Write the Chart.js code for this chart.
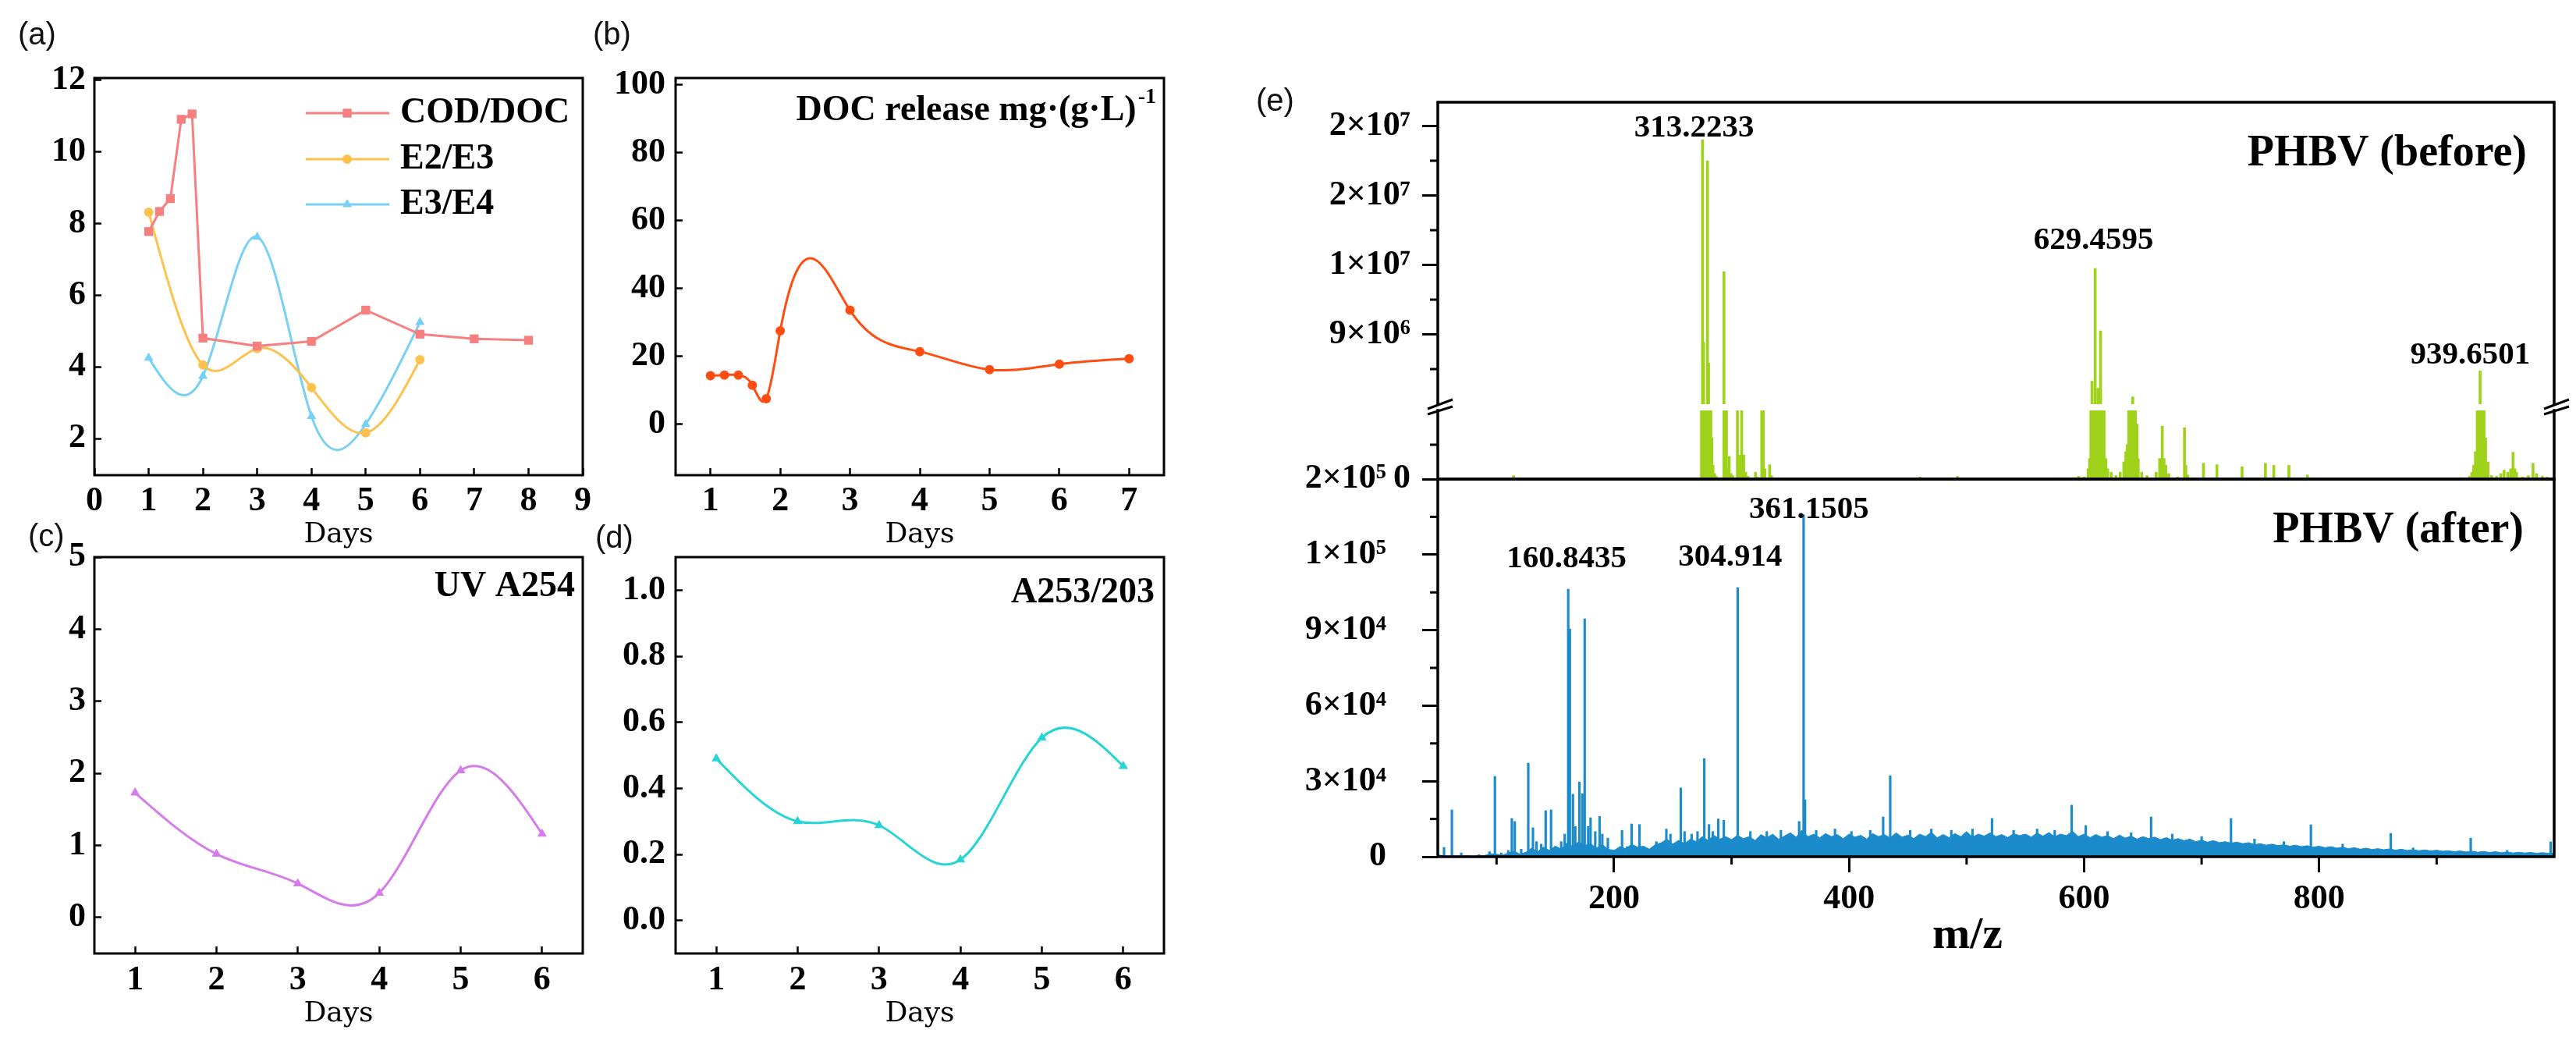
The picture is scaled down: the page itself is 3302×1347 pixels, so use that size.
<!DOCTYPE html>
<html>
<head>
<meta charset="utf-8">
<title>PHBV release / spectra</title>
<script src="https://cdn.jsdelivr.net/npm/chart.js@4.4.1/dist/chart.umd.min.js"></script>
<style>
  body { margin: 0; background: #fff; }
  #fig { position: relative; width: 3302px; height: 1347px; background: #fff; overflow: hidden; }
  #fig canvas { position: absolute; }
  .plab { position: absolute; font-family: "Liberation Sans", Arial, sans-serif; font-size: 40px; line-height: 40px; color: #111; }
</style>
</head>
<body>
<div id="fig">
  <canvas id="cA"></canvas>
  <canvas id="cB"></canvas>
  <canvas id="cC"></canvas>
  <canvas id="cD"></canvas>
  <canvas id="cE1"></canvas>
  <canvas id="cE2"></canvas>
  <canvas id="cE3"></canvas>
  <div class="plab" style="left:23px;top:23px">(a)</div>
  <div class="plab" style="left:760px;top:23px">(b)</div>
  <div class="plab" style="left:36px;top:666px">(c)</div>
  <div class="plab" style="left:763px;top:668px">(d)</div>
  <div class="plab" style="left:1610px;top:108px">(e)</div>
</div>
<script>
// (a) ratios
const daysCod = [1, 1.2, 1.4, 1.6, 1.8, 2, 3, 4, 5, 6, 7, 8];
const codDoc = [7.77, 8.33, 8.69, 10.9, 11.05, 4.8, 4.58, 4.71, 5.58, 4.91, 4.78, 4.74];
const daysE = [1, 2, 3, 4, 5, 6];
const e2e3 = [8.31, 4.05, 4.51, 3.42, 2.16, 4.2];
const e3e4 = [4.25, 3.74, 7.62, 2.62, 2.4, 5.24];
const ticksAx = [0, 1, 2, 3, 4, 5, 6, 7, 8, 9];
const ticksAy = [2, 4, 6, 8, 10, 12];

// (b) DOC release
const daysDoc = [1, 1.2, 1.4, 1.6, 1.8, 2, 3, 4, 5, 6, 7];
const docRelease = [14.3, 14.5, 14.5, 11.5, 7.5, 27.5, 33.6, 21.4, 16.1, 17.7, 19.3];
const ticksBx = [1, 2, 3, 4, 5, 6, 7];
const ticksBy = [0, 20, 40, 60, 80, 100];

// (c) UV A254 and (d) A253/203
const days6 = [1, 2, 3, 4, 5, 6];
const uvA254 = [1.73, 0.88, 0.47, 0.34, 2.04, 1.16];
const a253203 = [0.49, 0.30, 0.288, 0.184, 0.553, 0.467];
const ticksCDx = [1, 2, 3, 4, 5, 6];
const ticksCy = [0, 1, 2, 3, 4, 5];
const ticksDy = [0, 0.2, 0.4, 0.6, 0.8, 1.0];

// (e) PHBV before: [m/z, intensity]
const beforePeaks = [
  [114.5, 5e4], [116, 2e4],
  [274.4, 2.6e6], [275.3, 2.02e7], [276.2, 8.55e6], [277.2, 3.2e6], [278.2, 2.4e6], [279.5, 1.9e7],
  [280.4, 7.34e6], [281.4, 2.8e6], [282.3, 1.6e6], [283.2, 6e5], [284.2, 2e5], [285.5, 8e4], [287, 4e4],
  [293.5, 1.26e7], [294.6, 3e6], [295.6, 1.8e6], [297, 1.5e5], [298, 3.3e5], [299.5, 8e4], [301, 5e4],
  [305, 2.5e6], [306.3, 1.5e5], [307.3, 3.5e5], [308.6, 2.5e6], [310.3, 3.5e5], [312, 1e5], [314, 4e4],
  [320.4, 1e5], [322, 3e4], [325.7, 2.5e6], [327, 1.2e6], [328.3, 1.5e5], [332.4, 2.1e5], [334, 5e4],
  [460.4, 3e4], [492.3, 4e4], [578.8, 2e4], [590, 2e4], [595.4, 4e4], [600, 3e4], [603.4, 1.5e5],
  [604.7, 3e5], [605.8, 1.2e6], [606.7, 6.3e6], [607.8, 2.8e6], [609.4, 1.28e7], [610.6, 3.5e6],
  [611.8, 5.9e6], [612.9, 2.2e6], [614, 9.2e6], [615.4, 2.5e6], [617, 1.2e6], [618.5, 3e5], [620, 1.5e5],
  [623, 1e5], [627, 5e4], [630.7, 1e5], [633.8, 2.5e5], [635.5, 4e5], [636.7, 5e5], [638, 1.5e6],
  [639.3, 2.5e6], [640.4, 2e6], [641.4, 5.4e6], [642.5, 2.2e6], [643.6, 2.5e6], [645, 8e5], [646, 3e5],
  [649, 1e5], [653.6, 5e4], [661.3, 1e5], [664.3, 3e5], [666.5, 7.7e5], [668, 3e5], [669.5, 2e5],
  [672, 8e4], [679.6, 3e4], [685.4, 7.5e5], [686.5, 2e5], [688, 6e4], [701.6, 2.3e5], [713, 2.1e5],
  [734.4, 1.8e5], [754.3, 2.3e5], [761.4, 2e5], [774.3, 2e5], [790, 6e4], [919.4, 2e4], [928, 4e4],
  [930, 1e5], [931.5, 2e5], [933, 4e5], [934.6, 2.5e6], [935.8, 3.2e6], [937, 6.9e6], [938, 2.8e6],
  [939, 2.5e6], [940.3, 1.4e6], [941.6, 6e5], [943.7, 2.5e5], [946.7, 5e4], [951, 4e4], [954.6, 8e4],
  [957.4, 1.3e5], [960.6, 1e5], [963, 1.5e5], [965, 3.9e5], [966.5, 1.5e5], [968, 1e5], [973, 3e4],
  [978, 5e4], [982, 2.3e5], [985, 8e4], [990, 4e4], [994, 3e4]
];
const beforeTicks = [9e6, 1.3e7, 1.7e7, 2.1e7];
const beforeTickLabels = ['9×10⁶', '1×10⁷', '2×10⁷', '2×10⁷'];
const beforeMinor = [7e6, 1.1e7, 1.5e7, 1.9e7];
const beforeLowTicks = [0];
const beforeLowMinor = [5e5];
const beforeLabels = [['313.2233', 268.2, 2.087e7], ['629.4595', 608, 1.439e7], ['939.6501', 928.6, 7.79e6]];

// (e) PHBV after: sticks [m/z, intensity] and baseline noise envelope
const afterPeaks = [
  [55.3, 3700], [62, 18600], [70, 1500], [85, 800], [94, 2000], [98.6, 31900], [104, 1500], [110, 2500],
  [113, 15200], [115.5, 14000], [121, 3000], [127, 37200], [131, 11500], [134, 6000], [138, 5000],
  [141.8, 18300], [146.4, 18600], [150, 4000], [155, 6000], [158, 9000], [161, 106300], [162.4, 90500],
  [165, 24800], [167, 12000], [170.5, 29700], [173, 25000], [175, 94500], [178, 12000], [180, 15500],
  [184, 10000], [187.7, 16000], [190, 9000], [194.7, 7400], [206.8, 10500], [211, 4000], [214.9, 13000],
  [221.6, 12800], [236, 6000], [244.5, 11000], [248, 9000], [256.8, 27300], [260, 10000], [266, 9000],
  [271, 10000], [276.8, 39000], [280.8, 12800], [284, 10000], [288.7, 15000], [293.4, 14500],
  [305.2, 106900], [316, 10000], [330, 10000], [342, 10500], [357.5, 14000], [361.3, 135800],
  [362.5, 22600], [372, 10500], [388, 11000], [402, 10000], [418, 10500], [429, 15800], [435, 32200],
  [452, 10500], [470, 11000], [487, 10500], [505, 11000], [521.6, 15200], [540, 10500], [560, 11000],
  [575, 10500], [589.4, 20500], [601.4, 12400], [620, 10000], [640, 9500], [657, 15800], [675, 9000],
  [700, 8000], [725, 15200], [745, 7000], [770, 6000], [793, 12700], [820, 5000], [861, 9300],
  [880, 3500], [929, 7400], [960, 2500], [997, 5900]
];
const afterNoise = [
  [50, 800], [55, 300], [60, 200], [65, 300], [70, 200], [75, 400], [80, 200], [85, 300], [90, 500], [95, 1200],
  [100, 1000], [105, 600], [110, 1500], [115, 2200], [120, 1000], [125, 1800], [130, 3500], [135, 2000], [140, 3800], [145, 2500],
  [150, 4200], [155, 3000], [160, 5500], [165, 4000], [170, 6000], [175, 4500], [180, 5200], [185, 3500], [190, 4800], [195, 3000],
  [200, 2500], [205, 4000], [210, 3200], [215, 5000], [220, 3800], [225, 4200], [230, 3000], [235, 4800], [240, 5500], [245, 7000],
  [250, 5000], [255, 6500], [260, 5200], [265, 7000], [270, 6000], [275, 8000], [280, 6500], [285, 8500], [290, 7000], [295, 8000],
  [300, 6800], [305, 8500], [310, 7200], [315, 8000], [320, 6500], [325, 8800], [330, 7500], [335, 9000], [340, 7000], [345, 8200],
  [350, 9500], [355, 7800], [360, 10500], [365, 8000], [370, 9000], [375, 7500], [380, 9200], [385, 8000], [390, 8800], [395, 7200],
  [400, 9000], [405, 7800], [410, 8500], [415, 7000], [420, 9200], [425, 8000], [430, 8800], [435, 7500], [440, 9500], [445, 7800],
  [450, 8600], [455, 7200], [460, 9000], [465, 8000], [470, 9800], [475, 7500], [480, 8800], [485, 7600], [490, 9200], [495, 8000],
  [500, 10000], [505, 7800], [510, 9000], [515, 8200], [520, 9500], [525, 8000], [530, 8800], [535, 7600], [540, 9200], [545, 8400],
  [550, 9000], [555, 7800], [560, 9400], [565, 8200], [570, 9600], [575, 8000], [580, 9000], [585, 8400], [590, 10200], [595, 8000],
  [600, 9000], [605, 7600], [610, 8800], [615, 7800], [620, 8400], [625, 7200], [630, 8600], [635, 7400], [640, 8200], [645, 7000],
  [650, 8000], [655, 7200], [660, 7800], [665, 6800], [670, 7600], [675, 6600], [680, 7200], [685, 6400], [690, 7000], [695, 6000],
  [700, 6600], [705, 5800], [710, 6400], [715, 5600], [720, 6000], [725, 5400], [730, 5800], [735, 5200], [740, 5600], [745, 4800],
  [750, 5200], [755, 4600], [760, 5000], [765, 4400], [770, 4800], [775, 4200], [780, 4600], [785, 4000], [790, 4400], [795, 3800],
  [800, 4200], [805, 3600], [810, 4000], [815, 3400], [820, 3800], [825, 3200], [830, 3600], [835, 3000], [840, 3400], [845, 2900],
  [850, 3200], [855, 2800], [860, 3100], [865, 2600], [870, 3000], [875, 2500], [880, 2800], [885, 2400], [890, 2700], [895, 2300],
  [900, 2600], [905, 2200], [910, 2400], [915, 2000], [920, 2300], [925, 1900], [930, 2200], [935, 1800], [940, 2100], [945, 1700],
  [950, 2000], [955, 1600], [960, 1900], [965, 1500], [970, 1800], [975, 1500], [980, 1700], [985, 1400], [990, 1600], [995, 1400],
  [1000, 1400]
];
const afterTicks = [0, 3e4, 6e4, 9e4, 1.2e5, 1.5e5];
const afterTickLabels = ['0', '3×10⁴', '6×10⁴', '9×10⁴', '1×10⁵', '2×10⁵'];
const afterMinor = [1.5e4, 4.5e4, 7.5e4, 1.05e5, 1.35e5];
const mzTicks = [200, 400, 600, 800];
const mzMinor = [100, 300, 500, 700, 900];
const afterLabels = [['160.8435', 159.7, 1.184e5], ['304.914', 298.8, 1.19e5], ['361.1505', 365.9, 1.379e5]];

const SERIF = '"Liberation Serif", "Times New Roman", Times, serif';
const DAYS_FONT = '"DejaVu Serif", serif';
const C_COD = '#F67F7F', C_E23 = '#FDC24E', C_E34 = '#78D0F5';
const C_DOC = '#FF4D12', C_UV = '#D57BEA', C_A253 = '#26D4D4';
const C_BEFORE = '#9FD21A', C_AFTER = '#1C8BCB';

// extra drawing info per canvas (kept out of chart options so arrays are not resolved)
const extras = {};

function place(id, box) {
  const cv = document.getElementById(id);
  cv.width = box.W;
  cv.height = box.H;
  Object.assign(cv.style, { left: box.L + 'px', top: box.T + 'px', width: box.W + 'px', height: box.H + 'px' });
  return cv;
}

function marker(ctx, style, x, y, r) {
  ctx.beginPath();
  if (style === 'rect') {
    const s = r * Math.SQRT1_2;
    ctx.rect(x - s, y - s, 2 * s, 2 * s);
  } else if (style === 'triangle') {
    ctx.moveTo(x, y - r);
    ctx.lineTo(x + r * 0.866, y + r * 0.5);
    ctx.lineTo(x - r * 0.866, y + r * 0.5);
    ctx.closePath();
  } else {
    ctx.arc(x, y, r, 0, Math.PI * 2);
  }
  ctx.fill();
}

// natural cubic spline through the points (Origin "spline" connection)
const splinePlugin = {
  id: 'naturalSpline',
  beforeDatasetDraw(chart, args) {
    const ds = chart.data.datasets[args.index];
    const meta = args.meta;
    if (!ds.spline || !meta.dataset || !meta.dataset.updateControlPoints) return;
    meta.dataset.updateControlPoints(chart.chartArea, meta.iScale.axis);
    const pts = meta.data;
    const n = pts.length;
    if (n < 3) return;
    const xs = pts.map(p => p.x), ys = pts.map(p => p.y);
    const h = [];
    for (let i = 0; i < n - 1; i++) h.push(xs[i + 1] - xs[i]);
    const a = [], b = [], c = [], d = [];
    for (let i = 1; i < n - 1; i++) {
      a.push(h[i - 1]);
      b.push(2 * (h[i - 1] + h[i]));
      c.push(h[i]);
      d.push(6 * ((ys[i + 1] - ys[i]) / h[i] - (ys[i] - ys[i - 1]) / h[i - 1]));
    }
    const m = a.length;
    for (let i = 1; i < m; i++) {
      const w = a[i] / b[i - 1];
      b[i] -= w * c[i - 1];
      d[i] -= w * d[i - 1];
    }
    const M = new Array(n).fill(0);
    M[m] = d[m - 1] / b[m - 1];
    for (let i = m - 2; i >= 0; i--) M[i + 1] = (d[i] - c[i] * M[i + 2]) / b[i];
    for (let i = 0; i < n; i++) {
      const s = i < n - 1
        ? (ys[i + 1] - ys[i]) / h[i] - h[i] * (2 * M[i] + M[i + 1]) / 6
        : (ys[i] - ys[i - 1]) / h[i - 1] + h[i - 1] * (M[i - 1] + 2 * M[i]) / 6;
      const p = pts[i];
      if (i > 0) { p.cp1x = xs[i] - h[i - 1] / 3; p.cp1y = ys[i] - s * h[i - 1] / 3; }
      if (i < n - 1) { p.cp2x = xs[i] + h[i] / 3; p.cp2y = ys[i] + s * h[i] / 3; }
    }
  }
};

// frame, minor ticks, legend, texts, break marks
const decor = {
  id: 'decor',
  afterDraw(chart) {
    const ex = extras[chart.canvas.id] || {};
    const ctx = chart.ctx, ar = chart.chartArea;
    ctx.save();
    ctx.strokeStyle = '#000';
    ctx.fillStyle = '#000';

    (ex.minor || []).forEach(mn => {
      const sc = chart.scales[mn.axis];
      ctx.lineWidth = 3;
      mn.values.forEach(v => {
        const p = sc.getPixelForValue(v);
        ctx.beginPath();
        if (mn.axis === 'x') { ctx.moveTo(p, ar.bottom); ctx.lineTo(p, ar.bottom + mn.len); }
        else { ctx.moveTo(ar.left, p); ctx.lineTo(ar.left - mn.len, p); }
        ctx.stroke();
      });
    });

    if (ex.frame) {
      ctx.lineWidth = ex.frameWidth || 3;
      ctx.lineCap = 'square';
      ctx.beginPath();
      if (ex.frame.includes('t')) { ctx.moveTo(ar.left, ar.top); ctx.lineTo(ar.right, ar.top); }
      if (ex.frame.includes('b')) { ctx.moveTo(ar.left, ar.bottom); ctx.lineTo(ar.right, ar.bottom); }
      if (ex.frame.includes('l')) { ctx.moveTo(ar.left, ar.top); ctx.lineTo(ar.left, ar.bottom); }
      if (ex.frame.includes('r')) { ctx.moveTo(ar.right, ar.top); ctx.lineTo(ar.right, ar.bottom); }
      ctx.stroke();
      ctx.lineCap = 'butt';
    }

    if (ex.legend) {
      const lg = ex.legend;
      chart.data.datasets.forEach((ds, i) => {
        const y = ar.top + lg.rows[i];
        ctx.strokeStyle = ds.borderColor;
        ctx.lineWidth = ds.borderWidth;
        ctx.beginPath();
        ctx.moveTo(ar.left + lg.x0, y);
        ctx.lineTo(ar.left + lg.x1, y);
        ctx.stroke();
        ctx.fillStyle = ds.borderColor;
        marker(ctx, ds.pointStyle, ar.left + lg.xm, y, ds.pointRadius);
        ctx.fillStyle = '#000';
        ctx.font = 'bold ' + lg.size + 'px ' + SERIF;
        ctx.textAlign = 'left';
        ctx.textBaseline = 'middle';
        ctx.fillText(ds.label, ar.left + lg.xt, y);
      });
    }

    (ex.texts || []).forEach(t => {
      const font = 'bold ' + t.size + 'px ' + SERIF;
      const supFont = 'bold ' + Math.round(t.size * 0.6) + 'px ' + SERIF;
      ctx.font = font;
      const w = ctx.measureText(t.text).width;
      let sw = 0;
      if (t.sup) { ctx.font = supFont; sw = ctx.measureText(t.sup).width + 2; }
      const x0 = ar.right + t.dx - w - sw;
      const y = ar.top + t.dy;
      ctx.fillStyle = '#000';
      ctx.textAlign = 'left';
      ctx.textBaseline = 'middle';
      ctx.font = font;
      ctx.fillText(t.text, x0, y);
      if (t.sup) { ctx.font = supFont; ctx.fillText(t.sup, x0 + w + 2, y - t.size * 0.38); }
    });

    if (ex.peaks) {
      const sx = chart.scales.x, sy = chart.scales.y;
      ctx.font = 'bold ' + ex.peaks.size + 'px ' + SERIF;
      ctx.textAlign = 'center';
      ctx.textBaseline = 'middle';
      ex.peaks.list.forEach(pk => {
        ctx.fillText(pk[0], sx.getPixelForValue(pk[1]), sy.getPixelForValue(pk[2]));
      });
    }

    if (ex.xTitle) {
      ctx.font = 'bold ' + ex.xTitle.size + 'px ' + SERIF;
      ctx.textAlign = 'center';
      ctx.textBaseline = 'middle';
      ctx.fillText(ex.xTitle.text, ar.left + ex.xTitle.dx, ar.bottom + ex.xTitle.dy);
    }

    if (ex.breaks) {
      const y = ar.bottom + ex.breaks;
      ctx.lineWidth = 3;
      [ar.left, ar.right].forEach(x => {
        ctx.beginPath();
        ctx.moveTo(x - 13, y + 2); ctx.lineTo(x + 19, y - 10);
        ctx.moveTo(x - 13, y + 9); ctx.lineTo(x + 19, y - 1);
        ctx.stroke();
      });
    }
    ctx.restore();
  }
};

function serifBold(size) {
  return { family: SERIF, size: size, weight: 'bold' };
}

function linePanel(id, box, area, cfg) {
  const cv = place(id, box);
  extras[id] = Object.assign({ frame: 'tlbr' }, cfg.extras || {});
  return new Chart(cv, {
    type: 'line',
    data: { datasets: cfg.datasets },
    options: {
      responsive: false,
      animation: false,
      devicePixelRatio: 1,
      events: [],
      layout: { padding: { top: area.t - box.T, right: box.L + box.W - area.r, left: 0, bottom: 0 } },
      plugins: { legend: { display: false }, tooltip: { enabled: false } },
      scales: {
        x: {
          type: 'linear',
          min: cfg.xMin,
          max: cfg.xMax,
          afterBuildTicks: s => { s.ticks = cfg.xTicks.map(v => ({ value: v })); },
          afterFit: s => { s.height = box.T + box.H - area.b; },
          border: { display: false },
          grid: { drawOnChartArea: false, tickLength: -9, tickWidth: 2.5, tickColor: '#000' },
          ticks: { color: '#000', padding: cfg.xPad, maxRotation: 0, autoSkip: false, font: serifBold(44), callback: v => String(v) },
          title: { display: true, text: 'Days', color: '#000', font: { family: DAYS_FONT, size: 36 }, padding: { top: 0, bottom: cfg.titlePad } }
        },
        y: {
          type: 'linear',
          min: cfg.yMin,
          max: cfg.yMax,
          afterBuildTicks: s => { s.ticks = cfg.yTicks.map(v => ({ value: v })); },
          afterFit: s => { s.width = area.l - box.L; },
          border: { display: false },
          grid: { drawOnChartArea: false, tickLength: -9, tickWidth: 2.5, tickColor: '#000' },
          ticks: { color: '#000', padding: cfg.yPad, autoSkip: false, font: serifBold(44), callback: cfg.yFmt || (v => String(v)) }
        }
      }
    },
    plugins: [splinePlugin, decor]
  });
}

function series(label, xs, ys, color, style, radius, spline) {
  return {
    label: label,
    data: xs.map((x, i) => ({ x: x, y: ys[i] })),
    borderColor: color,
    backgroundColor: color,
    pointBackgroundColor: color,
    pointBorderColor: color,
    pointBorderWidth: 0,
    pointStyle: style,
    pointRadius: radius,
    borderWidth: 3,
    tension: spline ? 0.4 : 0,
    spline: spline
  };
}

// (a)
linePanel('cA', { L: 0, T: 0, W: 790, H: 715 }, { l: 121, t: 100, r: 747, b: 609 }, {
  datasets: [
    series('COD/DOC', daysCod, codDoc, C_COD, 'rect', 8, false),
    series('E2/E3', daysE, e2e3, C_E23, 'circle', 6, true),
    series('E3/E4', daysE, e3e4, C_E34, 'triangle', 7, true)
  ],
  xMin: 0, xMax: 9, xTicks: ticksAx, yMin: 0.98, yMax: 12.05, yTicks: ticksAy,
  xPad: 16.6, yPad: 20, titlePad: 7.4,
  extras: { legend: { x0: 271, x1: 378, xm: 324, xt: 392, rows: [45, 104, 162], size: 46 } }
});

// (b)
linePanel('cB', { L: 760, T: 0, W: 780, H: 715 }, { l: 866, t: 100, r: 1492, b: 609 }, {
  datasets: [series('DOC release', daysDoc, docRelease, C_DOC, 'circle', 6, true)],
  xMin: 0.5, xMax: 7.5, xTicks: ticksBx, yMin: -15, yMax: 102, yTicks: ticksBy,
  xPad: 16.6, yPad: 22, titlePad: 7.4,
  extras: { texts: [{ text: 'DOC release mg·(g·L)', sup: '-1', dx: -10, dy: 42, size: 46 }] }
});

// (c)
linePanel('cC', { L: 0, T: 650, W: 790, H: 697 }, { l: 121, t: 714, r: 747, b: 1222 }, {
  datasets: [series('UV A254', days6, uvA254, C_UV, 'triangle', 7, true)],
  xMin: 0.5, xMax: 6.5, xTicks: ticksCDx, yMin: -0.5, yMax: 5, yTicks: ticksCy,
  xPad: 17.6, yPad: 20, titlePad: 25.4,
  extras: { texts: [{ text: 'UV A254', dx: -10, dy: 38, size: 46 }] }
});

// (d)
linePanel('cD', { L: 760, T: 650, W: 780, H: 697 }, { l: 866, t: 714, r: 1492, b: 1222 }, {
  datasets: [series('A253/203', days6, a253203, C_A253, 'triangle', 7, true)],
  xMin: 0.5, xMax: 6.5, xTicks: ticksCDx, yMin: -0.1, yMax: 1.1, yTicks: ticksDy,
  xPad: 17.6, yPad: 22, titlePad: 25.4, yFmt: v => v.toFixed(1),
  extras: { texts: [{ text: 'A253/203', dx: -12, dy: 46, size: 46 }] }
});

// (e) spectra
function specPanel(id, box, area, cfg) {
  const cv = place(id, box);
  extras[id] = cfg.extras;
  const hasX = !!cfg.xTicks;
  const xScale = hasX ? {
    type: 'linear', min: 50, max: 1000, offset: false,
    afterBuildTicks: s => { s.ticks = cfg.xTicks.map(v => ({ value: v })); },
    afterFit: s => { s.height = box.T + box.H - area.b; },
    border: { display: false },
    grid: { drawOnChartArea: false, offset: false, tickLength: 20, tickWidth: 3, tickColor: '#000' },
    ticks: { color: '#000', padding: 8.6, maxRotation: 0, autoSkip: false, font: serifBold(44), callback: v => String(v) }
  } : { type: 'linear', display: false, min: 50, max: 1000, offset: false };
  return new Chart(cv, {
    type: 'bar',
    data: { datasets: cfg.datasets },
    options: {
      responsive: false,
      animation: false,
      devicePixelRatio: 1,
      events: [],
      layout: { padding: { top: area.t - box.T, right: box.L + box.W - area.r, left: 0, bottom: hasX ? 0 : box.T + box.H - area.b } },
      plugins: { legend: { display: false }, tooltip: { enabled: false } },
      scales: {
        x: xScale,
        y: {
          type: 'linear',
          min: cfg.yMin,
          max: cfg.yMax,
          afterBuildTicks: s => { s.ticks = cfg.yTicks.map(v => ({ value: v })); },
          afterFit: s => { s.width = area.l - box.L; },
          border: { display: false },
          grid: { drawOnChartArea: false, tickLength: 20, tickWidth: 3, tickColor: '#000' },
          ticks: { color: '#000', padding: cfg.yPad, autoSkip: false, font: serifBold(44), callback: (v, i) => cfg.yLabels[i] }
        }
      }
    },
    plugins: [decor]
  });
}

function sticks(pairs, color, thick) {
  return {
    type: 'bar',
    data: pairs.map(p => ({ x: p[0], y: p[1] })),
    backgroundColor: color,
    borderWidth: 0,
    barThickness: thick,
    grouped: false,
    clip: 0,
    order: 1
  };
}

specPanel('cE1', { L: 1550, T: 80, W: 1752, H: 490 }, { l: 1843, t: 131, r: 3274, b: 518 }, {
  datasets: [sticks(beforePeaks, C_BEFORE, 3)],
  yMin: 4.98e6, yMax: 2.237e7, yTicks: beforeTicks, yLabels: beforeTickLabels, yPad: 15,
  extras: {
    frame: 'tlr', frameWidth: 3.5,
    minor: [{ axis: 'y', values: beforeMinor, len: 10 }],
    peaks: { list: beforeLabels, size: 41 },
    texts: [{ text: 'PHBV (before)', dx: -35, dy: 67, size: 56 }],
    breaks: 4
  }
});

specPanel('cE2', { L: 1550, T: 470, W: 1752, H: 200 }, { l: 1843, t: 526, r: 3274, b: 614 }, {
  datasets: [sticks(beforePeaks, C_BEFORE, 3)],
  yMin: 0, yMax: 1e6, yTicks: beforeLowTicks, yLabels: ['0'], yPad: 15,
  extras: { frame: 'lrb', frameWidth: 3.5, minor: [{ axis: 'y', values: beforeLowMinor, len: 10 }] }
});

specPanel('cE3', { L: 1550, T: 530, W: 1752, H: 817 }, { l: 1843, t: 614, r: 3274, b: 1098 }, {
  datasets: [
    sticks(afterPeaks, C_AFTER, 2.5),
    {
      type: 'line',
      data: afterNoise.map(p => ({ x: p[0], y: p[1] })),
      borderColor: C_AFTER,
      backgroundColor: C_AFTER,
      borderWidth: 1,
      pointRadius: 0,
      tension: 0,
      fill: 'origin',
      clip: 0,
      order: 2
    }
  ],
  xTicks: mzTicks,
  yMin: 0, yMax: 1.5e5, yTicks: afterTicks, yLabels: afterTickLabels, yPad: 46,
  extras: {
    frame: 'tlrb', frameWidth: 3.5,
    minor: [{ axis: 'y', values: afterMinor, len: 10 }, { axis: 'x', values: mzMinor, len: 10 }],
    peaks: { list: afterLabels, size: 41 },
    texts: [{ text: 'PHBV (after)', dx: -39, dy: 67, size: 56 }],
    xTitle: { text: 'm/z', dx: 679, dy: 102, size: 58 }
  }
});
</script>
</body>
</html>
